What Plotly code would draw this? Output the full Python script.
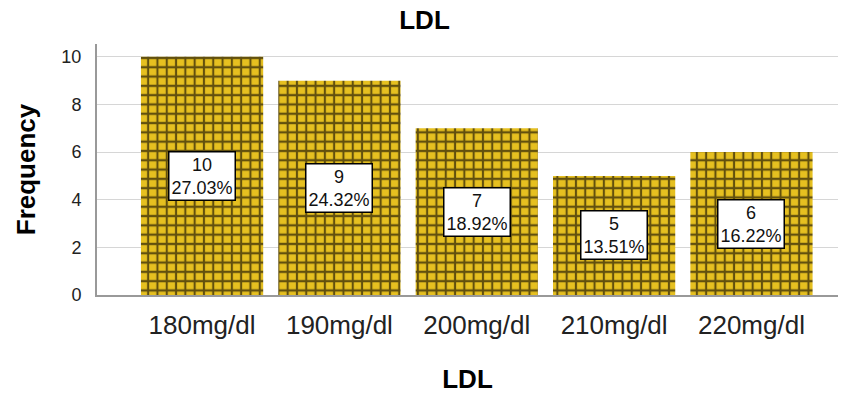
import plotly.graph_objects as go

categories = ["180mg/dl", "190mg/dl", "200mg/dl", "210mg/dl", "220mg/dl"]
counts = [10, 9, 7, 5, 6]
y_ticks = [0, 2, 4, 6, 8, 10]

total = sum(counts)
labels = [f"{c}<br>{c / total * 100:.2f}%" for c in counts]

fig = go.Figure()
fig.add_trace(go.Bar(
    x=categories,
    y=counts,
    width=0.89,
    marker=dict(
        color="#e6c020",
        line=dict(width=0),
        pattern=dict(shape="+", size=9.3, solidity=0.4,
                     fgcolor="#2e2506", bgcolor="#e6c020", fgopacity=0.72),
    ),
    hoverinfo="skip",
))

for cat, c, lab in zip(categories, counts, labels):
    fig.add_annotation(
        x=cat, y=c / 2, text=lab, showarrow=False,
        font=dict(family="Arial, Liberation Sans", size=18, color="#111"),
        bgcolor="white", bordercolor="black", borderwidth=1.5, borderpad=2,
    )

fig.update_layout(
    width=849, height=400,
    margin=dict(l=97, r=11, t=44, b=103),
    plot_bgcolor="white", paper_bgcolor="white",
    showlegend=False,
    font=dict(family="Arial, Liberation Sans", color="#222"),
    title=dict(text="<b>LDL</b>", x=0.5, xanchor="center", y=0.95, yanchor="middle",
               font=dict(size=26, color="black")),
)
fig.update_xaxes(
    range=[-0.765, 4.63],
    showline=True, linecolor="#999", linewidth=2,
    ticks="", tickfont=dict(size=26, color="#222"), ticklabelstandoff=6,
    title=dict(text="<b>LDL</b>", font=dict(size=26, color="black"), standoff=31),
)
fig.update_yaxes(
    range=[0, 10.54], tickvals=y_ticks,
    showline=True, linecolor="#999", linewidth=2,
    showgrid=True, gridcolor="#d6d6d6", gridwidth=1,
    zeroline=False,
    ticks="", tickfont=dict(size=18, color="#222"), ticklabelstandoff=10,
    title=dict(text="<b>Frequency</b>", font=dict(size=26, color="black"), standoff=18),
)

fig.write_html("out.html")
